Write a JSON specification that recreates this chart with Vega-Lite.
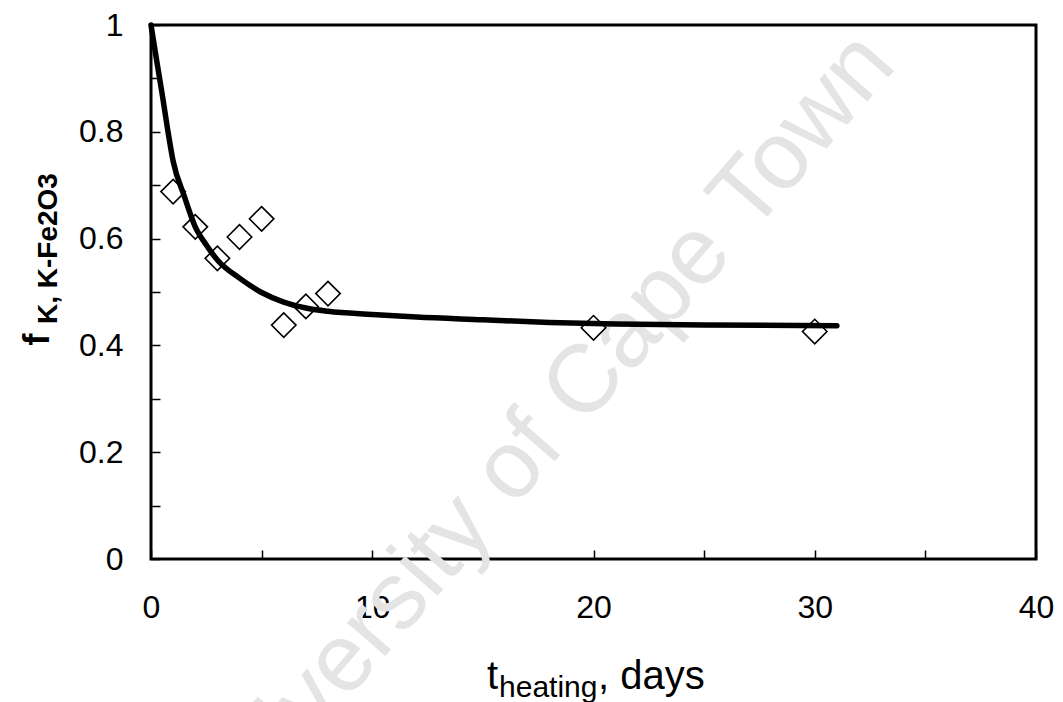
{
  "$schema": "https://vega.github.io/schema/vega-lite/v6.json",
  "autosize": "none",
  "width": 885,
  "height": 534,
  "padding": {"left": 151, "top": 25, "right": 27, "bottom": 143},
  "background": "white",
  "config": {
    "view": {"stroke": "black", "strokeWidth": 3},
    "font": "Liberation Sans",
    "axis": {"domain": false, "grid": false, "labelFont": "Liberation Sans", "labelColor": "black", "tickColor": "black"}
  },
  "datasets": {
    "points": [
      {"t": 1, "f": 0.688},
      {"t": 2, "f": 0.622},
      {"t": 3, "f": 0.563},
      {"t": 4, "f": 0.603},
      {"t": 5, "f": 0.637},
      {"t": 6, "f": 0.438},
      {"t": 7, "f": 0.473},
      {"t": 8, "f": 0.497},
      {"t": 20, "f": 0.433},
      {"t": 30, "f": 0.426}
    ],
    "curve": [
      {"t": 0, "f": 1.0},
      {"t": 0.25, "f": 0.935},
      {"t": 0.5, "f": 0.872},
      {"t": 0.75, "f": 0.805},
      {"t": 1.0, "f": 0.745},
      {"t": 1.5, "f": 0.68},
      {"t": 2.0, "f": 0.622},
      {"t": 2.5, "f": 0.588},
      {"t": 3.0, "f": 0.56},
      {"t": 4.0, "f": 0.526},
      {"t": 5.0, "f": 0.499},
      {"t": 6.0, "f": 0.481},
      {"t": 7.0, "f": 0.47},
      {"t": 8.0, "f": 0.464},
      {"t": 10.0, "f": 0.458},
      {"t": 12.0, "f": 0.453},
      {"t": 15.0, "f": 0.448},
      {"t": 18.0, "f": 0.443},
      {"t": 21.0, "f": 0.44},
      {"t": 25.0, "f": 0.438},
      {"t": 31.0, "f": 0.437}
    ],
    "labels": [
      {"part": "watermark", "text": "University of Cape Town"},
      {"part": "xmain", "text": "t"},
      {"part": "xsub", "text": "heating"},
      {"part": "xtail", "text": ", days"},
      {"part": "ymain", "text": "f"},
      {"part": "ysub", "text": "K, K-Fe2O3"}
    ]
  },
  "layer": [
    {
      "data": {"name": "labels"},
      "transform": [{"filter": "datum.part == 'watermark'"}],
      "mark": {"type": "text", "fontSize": 96, "color": "#e4e4e4", "angle": 311, "align": "center", "baseline": "middle", "font": "Liberation Sans"},
      "encoding": {
        "text": {"field": "text"},
        "x": {"datum": 17.45, "type": "quantitative", "scale": {"domain": [0, 40], "nice": false, "zero": false}},
        "y": {"datum": 0.228, "type": "quantitative", "scale": {"domain": [0, 1], "nice": false}}
      }
    },
    {
      "data": {"name": "curve"},
      "mark": {"type": "line", "color": "black", "strokeWidth": 5.5, "interpolate": "monotone", "strokeCap": "round"},
      "encoding": {
        "x": {
          "field": "t", "type": "quantitative",
          "scale": {"domain": [0, 40], "nice": false, "zero": false},
          "axis": {"title": null, "values": [0, 5, 10, 15, 20, 25, 30, 35, 40], "labelExpr": "datum.value % 10 == 0 ? datum.label : ''", "labelFontSize": 32, "tickSize": -9, "tickWidth": 1.5, "labelPadding": 42, "labelFlush": false, "labelOverlap": false}
        },
        "y": {
          "field": "f", "type": "quantitative",
          "scale": {"domain": [0, 1], "nice": false},
          "axis": {"title": null, "values": [0, 0.1, 0.2, 0.3, 0.4, 0.5, 0.6, 0.7, 0.8, 0.9, 1.0], "labelExpr": "round(datum.value*10) % 2 == 0 ? format(datum.value, '.1~f') : ''", "labelFontSize": 32, "tickSize": -9, "tickWidth": 1.5, "labelPadding": 37, "labelFlush": false, "labelOverlap": false}
        }
      }
    },
    {
      "data": {"name": "points"},
      "mark": {"type": "point", "shape": "diamond", "filled": false, "stroke": "black", "strokeWidth": 1.6, "size": 600, "opacity": 1},
      "encoding": {
        "x": {"field": "t", "type": "quantitative"},
        "y": {"field": "f", "type": "quantitative"}
      }
    },
    {
      "data": {"name": "labels"},
      "transform": [{"filter": "datum.part == 'xmain'"}],
      "mark": {"type": "text", "fontSize": 40, "color": "black", "align": "left", "baseline": "alphabetic"},
      "encoding": {"text": {"field": "text"}, "x": {"datum": 15.19}, "y": {"datum": -0.243}}
    },
    {
      "data": {"name": "labels"},
      "transform": [{"filter": "datum.part == 'xsub'"}],
      "mark": {"type": "text", "fontSize": 30, "color": "black", "align": "left", "baseline": "alphabetic"},
      "encoding": {"text": {"field": "text"}, "x": {"datum": 15.73}, "y": {"datum": -0.259}}
    },
    {
      "data": {"name": "labels"},
      "transform": [{"filter": "datum.part == 'xtail'"}],
      "mark": {"type": "text", "fontSize": 40, "color": "black", "align": "left", "baseline": "alphabetic"},
      "encoding": {"text": {"field": "text"}, "x": {"datum": 20.2}, "y": {"datum": -0.243}}
    },
    {
      "data": {"name": "labels"},
      "transform": [{"filter": "datum.part == 'ymain'"}],
      "mark": {"type": "text", "fontSize": 36, "fontWeight": "bold", "color": "black", "angle": 270, "align": "left", "baseline": "alphabetic"},
      "encoding": {"text": {"field": "text"}, "x": {"datum": -4.6}, "y": {"datum": 0.4}}
    },
    {
      "data": {"name": "labels"},
      "transform": [{"filter": "datum.part == 'ysub'"}],
      "mark": {"type": "text", "fontSize": 28, "fontWeight": "bold", "color": "black", "angle": 270, "align": "left", "baseline": "alphabetic"},
      "encoding": {"text": {"field": "text"}, "x": {"datum": -4.25}, "y": {"datum": 0.44}}
    }
  ]
}
